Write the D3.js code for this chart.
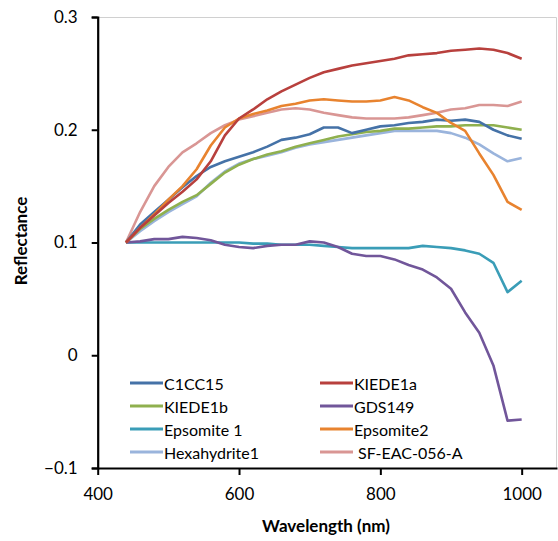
<!DOCTYPE html>
<html>
<head>
<meta charset="utf-8">
<script src="https://cdn.jsdelivr.net/npm/d3@7"></script>
<style>
  body { margin: 0; background: #fff; }
  text { font-family: Lato, "Open Sans", sans-serif; fill: #000; }
</style>
</head>
<body>
<div id="graphic" width="558" height="541"></div>
<script>
// wavelengths (nm), one sample every 20 nm
let wavelength = [440, 460, 480, 500, 520, 540, 560, 580, 600, 620, 640, 660, 680, 700, 720,
  740, 760, 780, 800, 820, 840, 860, 880, 900, 920, 940, 960, 980, 1000];

let c1cc15 = [0.100, 0.116, 0.127, 0.138, 0.149, 0.159, 0.167, 0.172, 0.176, 0.180, 0.185, 0.191, 0.193, 0.196, 0.202,
  0.202, 0.197, 0.200, 0.203, 0.204, 0.206, 0.207, 0.209, 0.208, 0.209, 0.207, 0.200, 0.195, 0.192];
let kiede1a = [0.100, 0.113, 0.124, 0.135, 0.145, 0.156, 0.172, 0.195, 0.210, 0.218, 0.227, 0.234, 0.240, 0.246, 0.251,
  0.254, 0.257, 0.259, 0.261, 0.263, 0.266, 0.267, 0.268, 0.270, 0.271, 0.272, 0.271, 0.268, 0.263];
let kiede1b = [0.100, 0.112, 0.121, 0.129, 0.136, 0.142, 0.152, 0.162, 0.169, 0.174, 0.178, 0.181, 0.185, 0.188, 0.191,
  0.194, 0.196, 0.198, 0.199, 0.201, 0.201, 0.202, 0.203, 0.203, 0.204, 0.204, 0.204, 0.202, 0.200];
let gds149 = [0.100, 0.101, 0.103, 0.103, 0.105, 0.104, 0.102, 0.098, 0.096, 0.095, 0.097, 0.098, 0.098, 0.101, 0.100,
  0.096, 0.090, 0.088, 0.088, 0.085, 0.080, 0.076, 0.069, 0.059, 0.038, 0.020, -0.009, -0.058, -0.057];
let epsomite1 = [0.100, 0.100, 0.100, 0.100, 0.100, 0.100, 0.100, 0.100, 0.100, 0.099, 0.099, 0.098, 0.098, 0.098, 0.097,
  0.096, 0.095, 0.095, 0.095, 0.095, 0.095, 0.097, 0.096, 0.095, 0.093, 0.090, 0.082, 0.056, 0.066];
let epsomite2 = [0.100, 0.113, 0.125, 0.138, 0.150, 0.165, 0.186, 0.202, 0.210, 0.214, 0.217, 0.221, 0.223, 0.226, 0.227,
  0.226, 0.225, 0.225, 0.226, 0.229, 0.226, 0.220, 0.215, 0.206, 0.199, 0.179, 0.160, 0.136, 0.129];
let hexahydrite1 = [0.100, 0.110, 0.119, 0.127, 0.134, 0.141, 0.153, 0.163, 0.170, 0.174, 0.177, 0.180, 0.184, 0.187, 0.189,
  0.191, 0.193, 0.195, 0.197, 0.199, 0.199, 0.199, 0.199, 0.197, 0.193, 0.187, 0.179, 0.172, 0.175];
let sfeac056a = [0.100, 0.127, 0.150, 0.167, 0.180, 0.188, 0.197, 0.204, 0.209, 0.212, 0.215, 0.218, 0.219, 0.218, 0.215,
  0.213, 0.211, 0.210, 0.210, 0.210, 0.211, 0.213, 0.215, 0.218, 0.219, 0.222, 0.222, 0.221, 0.225];

let seriesNames = ["C1CC15", "KIEDE1a", "KIEDE1b", "GDS149", "Epsomite 1", "Epsomite2", "Hexahydrite1", " SF-EAC-056-A"];
let seriesValues = [c1cc15, kiede1a, kiede1b, gds149, epsomite1, epsomite2, hexahydrite1, sfeac056a];
let seriesColors = ["#4572a7", "#b8403d", "#8fb04e", "#71569a", "#3a9db7", "#e8832f", "#9ab4dc", "#d99694"];

let xTicks = [400, 600, 800, 1000];
let yTicks = [-0.1, 0, 0.1, 0.2, 0.3];

// drawing order: paint the pale ones first like the original
let drawOrder = [7, 6, 4, 3, 2, 0, 5, 1];

let graphic = document.querySelector('#graphic');
let W = +graphic.getAttribute('width');
let H = +graphic.getAttribute('height');
let margin = {top: 17, right: 1, bottom: 73, left: 97.7};
let width = W - margin.left - margin.right;
let height = H - margin.top - margin.bottom;

let svg = d3.select("#graphic")
  .append("svg")
    .attr("width", W)
    .attr("height", H)
  .append("g")
    .attr("transform", "translate(" + margin.left + "," + margin.top + ")");

let x = d3.scaleLinear().domain([400, 1050]).range([0, width]);
let y = d3.scaleLinear().domain([-0.1, 0.3]).range([height, 0]);

// light plot border (top and right)
svg.append("path")
  .attr("d", "M0,0.5H" + (width - 0.5) + "V" + height)
  .attr("fill", "none")
  .attr("stroke", "#d0d0d0")
  .attr("stroke-width", 1);

let line = d3.line()
  .x((d, i) => x(wavelength[i]))
  .y(d => y(d));

drawOrder.forEach(function(k) {
  svg.append("path")
    .datum(seriesValues[k])
    .attr("fill", "none")
    .attr("stroke", seriesColors[k])
    .attr("stroke-width", 2.6)
    .attr("stroke-linejoin", "round")
    .attr("d", line);
});

// Y axis
let yAxis = svg.append("g")
  .call(d3.axisLeft(y).tickValues(yTicks).tickSize(6).tickPadding(14)
    .tickFormat(d => d === 0 ? "0" : d3.format(".1f")(d)));
yAxis.selectAll("text").style("font-size", "17px");

// X axis
let xAxis = svg.append("g")
  .attr("transform", "translate(0," + height + ")")
  .call(d3.axisBottom(x).tickValues(xTicks).tickSize(7).tickPadding(13).tickSizeOuter(0)
    .tickFormat(d3.format("d")));
xAxis.selectAll("text").style("font-size", "17px");

svg.selectAll(".domain").attr("stroke", "#000").attr("stroke-width", 2.2);
svg.selectAll(".tick line").attr("stroke", "#000").attr("stroke-width", 2);

// axis titles
svg.append("text")
  .attr("transform", "translate(" + (20 - margin.left) + "," + (241 - margin.top) + ")rotate(-90)")
  .attr("text-anchor", "middle")
  .attr("dominant-baseline", "central")
  .style("font-size", "17px")
  .style("font-weight", "bold")
  .text("Reflectance");

svg.append("text")
  .attr("x", 326 - margin.left)
  .attr("y", 532 - margin.top)
  .attr("text-anchor", "middle")
  .style("font-size", "17px")
  .style("font-weight", "bold")
  .text("Wavelength (nm)");

// legend, two columns
let legendX = [130, 320];
let legendY = [383, 406, 429, 452];
let legend = d3.select("#graphic svg").append("g");
seriesNames.forEach(function(name, i) {
  let lx = legendX[i % 2];
  let ly = legendY[Math.floor(i / 2)];
  legend.append("line")
    .attr("x1", lx).attr("x2", lx + 33)
    .attr("y1", ly).attr("y2", ly)
    .attr("stroke", seriesColors[i])
    .attr("stroke-width", 3);
  legend.append("text")
    .attr("x", lx + 34)
    .attr("y", ly)
    .attr("dominant-baseline", "central")
    .style("font-size", "16px")
    .style("white-space", "pre")
    .text(name);
});
</script>
</body>
</html>
